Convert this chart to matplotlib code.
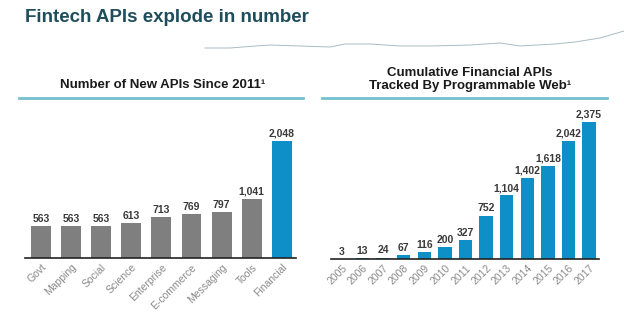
import numpy as np
import matplotlib
matplotlib.use('Agg')
import matplotlib.pyplot as plt
from matplotlib.lines import Line2D

plt.rcParams['font.family'] = 'Liberation Sans'

# 数据
categories = ['Govt', 'Mapping', 'Social', 'Science', 'Enterprise', 'E-commerce', 'Messaging', 'Tools', 'Financial']
new_apis = [563, 563, 563, 613, 713, 769, 797, 1041, 2048]

years = ['2005', '2006', '2007', '2008', '2009', '2010', '2011', '2012', '2013', '2014', '2015', '2016', '2017']
cumulative = [3, 13, 24, 67, 116, 200, 327, 752, 1104, 1402, 1618, 2042, 2375]

gray = '#7f7f7f'
blue = '#0f8fc8'
label_col = '#3a3a3a'
tick_col = '#8a8a8a'
W, H = 624, 331

fig = plt.figure(figsize=(6.24, 3.31), dpi=100)

def fx(px):
    return px / W

def fy(py):
    return 1 - py / H

# 标题
fig.text(fx(25), fy(18), 'Fintech APIs explode in number', fontsize=13.5, fontweight='bold',
         color='#1e4d5c', va='center', ha='left')

# 装饰线
deco_x = [205, 230, 255, 270, 300, 330, 345, 370, 400, 430, 470, 500, 520, 555, 575, 600, 624]
deco_y = [48, 48, 46, 45, 46, 47, 44, 44, 46, 46, 45, 43, 46, 44, 42, 38, 31]
fig.add_artist(Line2D([fx(v) for v in deco_x], [fy(v) for v in deco_y], color='#a9bcc4', lw=0.7))

# 子标题
fig.text(fx(163), fy(85), 'Number of New APIs Since 2011¹', fontsize=9.5, fontweight='bold',
         color='#1a1a1a', ha='center', va='center')
fig.text(fx(470), fy(79.5), 'Cumulative Financial APIs\nTracked By Programmable Web¹', fontsize=9.5,
         fontweight='bold', color='#1a1a1a', ha='center', va='center', linespacing=1.15)
fig.add_artist(Line2D([fx(19), fx(303)], [fy(98), fy(98)], color='#74c0d0', lw=2))
fig.add_artist(Line2D([fx(322), fx(607)], [fy(98), fy(98)], color='#74c0d0', lw=2))

# 左图
ax1 = fig.add_axes([fx(25), fy(258), fx(296 - 25), (258 - 130) / H])
colors1 = [gray] * (len(categories) - 1) + [blue]
x1 = np.arange(len(categories))
ax1.bar(x1, new_apis, width=0.66, color=colors1)
for i, v in enumerate(new_apis):
    ax1.text(i, v + 40, '{:,}'.format(v), ha='center', va='bottom', fontsize=7.5,
             fontweight='bold', color=label_col)
ax1.set_xlim(-0.53, 8.47)
ax1.set_ylim(0, 2048 * 128 / 117)
ax1.set_xticks(x1)
ax1.set_xticklabels(categories, rotation=45, ha='right', rotation_mode='anchor',
                    fontsize=7.5, color=tick_col)

# 右图
ax2 = fig.add_axes([fx(331), fy(259), fx(599 - 331), (259 - 115) / H])
x2 = np.arange(len(years))
ax2.bar(x2, cumulative, width=0.65, color=blue)
for i, v in enumerate(cumulative):
    ax2.text(i, v + 40, '{:,}'.format(v), ha='center', va='bottom', fontsize=7.5,
             fontweight='bold', color=label_col)
ax2.set_xlim(-0.53, 12.48)
ax2.set_ylim(0, 2375 * 144 / 137)
ax2.set_xticks(x2)
ax2.set_xticklabels(years, rotation=45, ha='right', rotation_mode='anchor',
                    fontsize=7.5, color=tick_col)

for ax in (ax1, ax2):
    for s in ('top', 'right', 'left'):
        ax.spines[s].set_visible(False)
    ax.spines['bottom'].set_color('#222222')
    ax.spines['bottom'].set_linewidth(1.2)
    ax.set_yticks([])
    ax.tick_params(axis='x', length=0, pad=3)
    ax.patch.set_alpha(0)

fig.savefig('out.png', dpi=100)
